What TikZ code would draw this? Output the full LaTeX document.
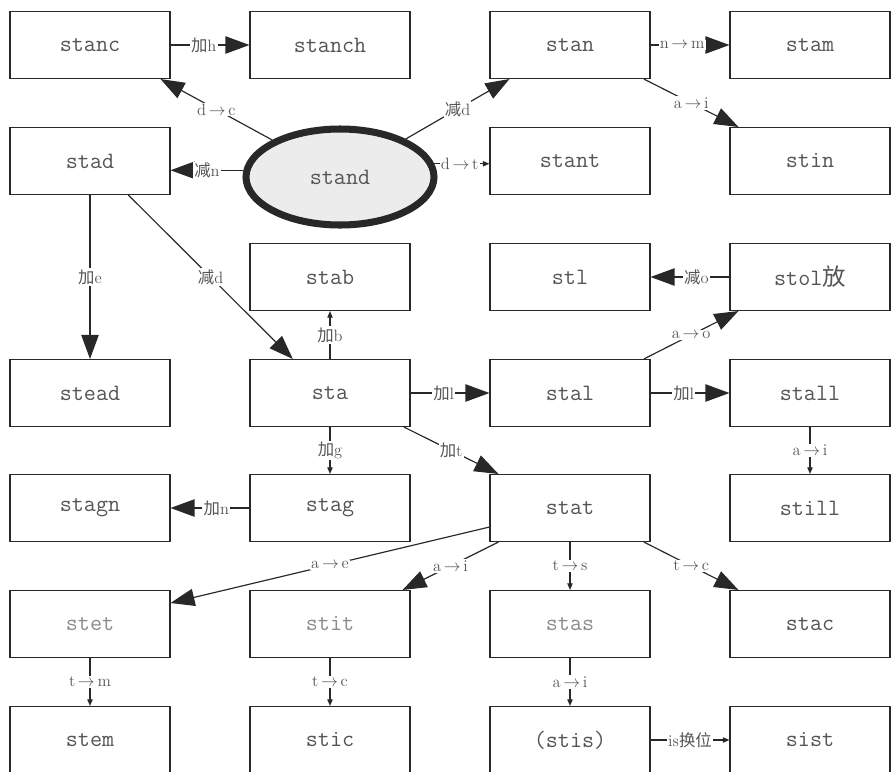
\documentclass[tikz,border=0pt]{standalone}
\usepackage{fontspec}
\newfontfamily\cjkfont{Noto Sans CJK SC}
\usepackage{tikz}
\usetikzlibrary{shapes.geometric, arrows.meta, positioning, calc}
\definecolor{myink}{RGB}{40,40,40}
\definecolor{mytext}{RGB}{85,85,85}
\definecolor{mypale}{RGB}{140,140,140}
\definecolor{myfill}{RGB}{236,236,236}
\newcommand{\zh}[1]{{\cjkfont #1}}
\newcommand{\chg}[2]{#1\,$\rightarrow$\,#2}
\tikzset{
  wordbox/.style={rectangle, draw=myink, fill=white,
    minimum width=4.8cm, minimum height=2.01cm, line width=0.9pt,
    font=\fontsize{20}{24}\selectfont\ttfamily, text=mytext},
  palebox/.style={wordbox, text=mypale},
  rootnode/.style={ellipse, draw=myink, fill=myfill,
    minimum width=5.64cm, minimum height=2.88cm, line width=6pt,
    font=\fontsize{20}{24}\selectfont\ttfamily, text=mytext},
  bigarrow/.style={-{Triangle[length=0.72cm, width=0.52cm]}, line width=1pt, color=myink},
  smallarrow/.style={-{Triangle[length=0.2cm, width=0.16cm]}, line width=1pt, color=myink},
  lbl/.style={midway, fill=white, inner sep=1pt,
    font=\fontsize{14}{16}\selectfont, text=mytext}
}
\begin{document}
\begin{tikzpicture}[x=0.03cm, y=-0.03cm]
  \useasboundingbox (0,0) rectangle (893,771);
  \node[wordbox] (stanc)  at (90,45)   {stanc};
  \node[wordbox] (stanch) at (330,45)  {stanch};
  \node[wordbox] (stan)   at (570,45)  {stan};
  \node[wordbox] (stam)   at (810,45)  {stam};
  \node[wordbox] (stad)   at (90,161)  {stad};
  \node[rootnode] (stand) at (340,177) {stand};
  \node[wordbox] (stant)  at (570,161) {stant};
  \node[wordbox] (stin)   at (810,161) {stin};
  \node[wordbox] (stab)   at (330,277) {stab};
  \node[wordbox] (stl)    at (570,277) {stl};
  \node[wordbox] (stol)   at (810,277) {stol\zh{放}};
  \node[wordbox] (stead)  at (90,393)  {stead};
  \node[wordbox] (sta)    at (330,393) {sta};
  \node[wordbox] (stal)   at (570,393) {stal};
  \node[wordbox] (stall)  at (810,393) {stall};
  \node[wordbox] (stagn)  at (90,508)  {stagn};
  \node[wordbox] (stag)   at (330,508) {stag};
  \node[wordbox] (stat)   at (570,508) {stat};
  \node[wordbox] (still)  at (810,508) {still};
  \node[palebox] (stet)   at (90,624)  {stet};
  \node[palebox] (stit)   at (330,624) {stit};
  \node[palebox] (stas)   at (570,624) {stas};
  \node[wordbox] (stac)   at (810,624) {stac};
  \node[wordbox] (stem)   at (90,740)  {stem};
  \node[wordbox] (stic)   at (330,740) {stic};
  \node[wordbox] (stis)   at (570,740) {(stis)};
  \node[wordbox] (sist)   at (810,740) {sist};

  \draw[bigarrow] (stanc) -- (stanch) node[lbl, pos=0.42] {\zh{加}h};
  \draw[bigarrow] (stand) -- ([xshift=-0.3cm]stanc.south east) node[lbl] {\chg{d}{c}};
  \draw[bigarrow] (stand.176) -- (stand.176 -| stad.east) node[lbl] {\zh{减}n};
  \draw[bigarrow] (stand) -- ([xshift=0.6cm]stan.south west) node[lbl] {\zh{减}d};
  \draw[smallarrow] (stand.8) -- (stand.8 -| stant.west) node[lbl, pos=0.46] {\chg{d}{t}};
  \draw[bigarrow] (stan) -- (stam) node[lbl, pos=0.4] {\chg{n}{m}};
  \draw[bigarrow] ([xshift=-0.2cm]stan.south east) -- ([xshift=0.27cm]stin.north west) node[lbl] {\chg{a}{i}};
  \draw[bigarrow] (stad) -- (stead) node[lbl] {\zh{加}e};
  \draw[bigarrow] ([xshift=1.15cm]stad.south) -- ([xshift=1.3cm]sta.north west) node[lbl] {\zh{减}d};
  \draw[smallarrow] (sta) -- (stab) node[lbl] {\zh{加}b};
  \draw[bigarrow] (sta) -- (stal) node[lbl, pos=0.42] {\zh{加}l};
  \draw[bigarrow] (stal) -- (stall) node[lbl, pos=0.42] {\zh{加}l};
  \draw[bigarrow] ([xshift=-0.2cm]stal.north east) -- ([xshift=0.27cm]stol.south west) node[lbl] {\chg{a}{o}};
  \draw[bigarrow] (stol) -- (stl) node[lbl, pos=0.42] {\zh{减}o};
  \draw[smallarrow] (stall) -- (still) node[lbl] {\chg{a}{i}};
  \draw[smallarrow] (sta) -- (stag) node[lbl] {\zh{加}g};
  \draw[bigarrow] ([xshift=-0.2cm]sta.south east) -- ([xshift=0.27cm]stat.north west) node[lbl] {\zh{加}t};
  \draw[bigarrow] (stag) -- (stagn) node[lbl, pos=0.42] {\zh{加}n};
  \draw[bigarrow] ([yshift=-0.57cm]stat.west) -- ([yshift=0.63cm]stet.east) node[lbl] {\chg{a}{e}};
  \draw[bigarrow] ([xshift=0.27cm]stat.south west) -- ([xshift=-0.24cm]stit.north east) node[lbl] {\chg{a}{i}};
  \draw[smallarrow] (stat) -- (stas) node[lbl] {\chg{t}{s}};
  \draw[bigarrow] ([xshift=-0.2cm]stat.south east) -- ([xshift=0.27cm]stac.north west) node[lbl] {\chg{t}{c}};
  \draw[smallarrow] (stet) -- (stem) node[lbl] {\chg{t}{m}};
  \draw[smallarrow] (stit) -- (stic) node[lbl] {\chg{t}{c}};
  \draw[smallarrow] (stas) -- (stis) node[lbl] {\chg{a}{i}};
  \draw[smallarrow] (stis) -- (sist) node[lbl] {is\zh{换位}};
\end{tikzpicture}
\end{document}
